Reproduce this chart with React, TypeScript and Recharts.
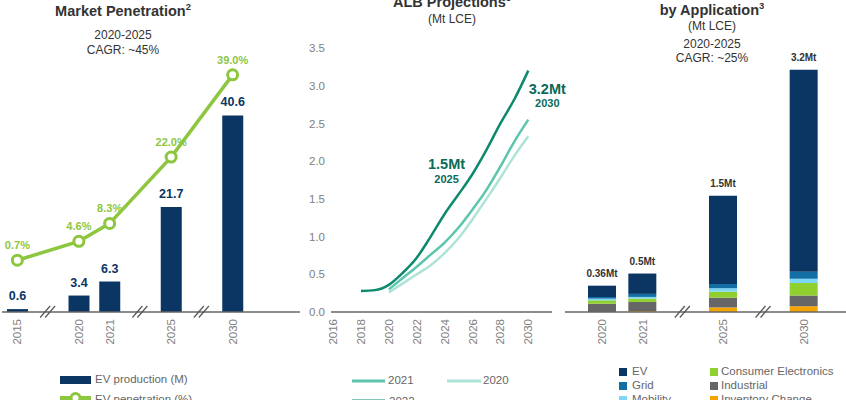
import React from 'react'
import {
    ComposedChart,
    BarChart,
    LineChart,
    Bar,
    Line,
    XAxis,
    YAxis,
    LabelList,
} from 'recharts'

const FONT = '"Liberation Sans", Arial, sans-serif'
const NAVY = '#0b3563'
const LIME = '#8dc63f'
const AXIS = '#666666'
const TICK = '#808080'
const TEAL_DARK = '#0c8a6e'
const TEAL_MID = '#5cc5ad'
const TEAL_LIGHT = '#aee3d8'
const TEAL_TEXT = '#0b6b58'

// market penetration
const evYears = ['2015', '2020', '2021', '2025', '2030']
const evProduction = [0.6, 3.4, 6.3, 21.7, 40.6]
const evPenetration = [0.7, 4.6, 8.3, 22.0, 39.0]
const evBreaksAfter = ['2015', '2021', '2025']

// ALB projections (Mt LCE)
const albYears = [2018, 2019, 2020, 2021, 2022, 2023, 2024, 2025, 2026, 2027, 2028, 2029, 2030]
const alb2022 = [0.28, 0.29, 0.36, 0.52, 0.72, 1.0, 1.3, 1.56, 1.83, 2.15, 2.5, 2.82, 3.2]
const alb2021 = [null, null, 0.3, 0.45, 0.6, 0.76, 0.92, 1.12, 1.36, 1.62, 1.93, 2.26, 2.55]
const alb2020 = [null, null, 0.26, 0.38, 0.5, 0.62, 0.78, 0.98, 1.23, 1.5, 1.78, 2.07, 2.33]
const albXTicks = [2016, 2018, 2020, 2022, 2024, 2026, 2028, 2030]
const albYTicks = [0, 0.5, 1, 1.5, 2, 2.5, 3, 3.5]
const albCallouts: Record<number, string> = { 2025: '1.5Mt', 2030: '3.2Mt' }

// demand by application (Mt LCE)
const appYears = ['2020', '2021', '2025', '2030']
const appBreaksAfter = ['2021', '2025']
const appInventory = [0, 0.013, 0.06, 0.075]
const appIndustrial = [0.11, 0.12, 0.13, 0.145]
const appConsumer = [0.045, 0.045, 0.08, 0.165]
const appMobility = [0.022, 0.022, 0.045, 0.057]
const appGrid = [0.022, 0.04, 0.057, 0.09]
const appEV = [0.15, 0.27, 1.17, 2.68]
const appTotals = ['0.36Mt', '0.5Mt', '1.5Mt', '3.2Mt']

const appSeries = [
    { key: 'inventory', name: 'Inventory Change', color: '#f5a300' },
    { key: 'industrial', name: 'Industrial', color: '#666666' },
    { key: 'consumer', name: 'Consumer Electronics', color: '#8fd02e' },
    { key: 'mobility', name: 'Mobility', color: '#7dd6f4' },
    { key: 'grid', name: 'Grid', color: '#136ea3' },
    { key: 'ev', name: 'EV', color: NAVY },
]

function withGaps(rows: any[], breaksAfter: string[]) {
    const out: any[] = []
    rows.forEach((r) => {
        out.push(r)
        if (breaksAfter.includes(r.name)) out.push({ name: 'gap' + out.length })
    })
    return out
}

function CategoryTick({ x, y, payload }: any) {
    const v = String(payload.value)
    if (v.startsWith('gap')) {
        return (
            <g stroke="#555" strokeWidth={1.2}>
                <line x1={x - 8} y1={y + 5.5} x2={x + 2} y2={y - 6} />
                <line x1={x - 3} y1={y + 5.5} x2={x + 7} y2={y - 6} />
            </g>
        )
    }
    return (
        <text
            x={x}
            y={y + 7}
            transform={`rotate(-90 ${x} ${y + 7})`}
            textAnchor="end"
            dy="0.35em"
            fill={TICK}
            fontSize={11.5}
        >
            {v}
        </text>
    )
}

function YearTick({ x, y, payload }: any) {
    return (
        <text
            x={x}
            y={y + 7}
            transform={`rotate(-90 ${x} ${y + 7})`}
            textAnchor="end"
            dy="0.35em"
            fill={TICK}
            fontSize={11.5}
        >
            {payload.value}
        </text>
    )
}

function BarValue({ x, y, width, value }: any) {
    if (value == null) return null
    return (
        <text x={x + width / 2} y={y - 9} textAnchor="middle" fill={NAVY} fontWeight="bold" fontSize={12.5}>
            {value}
        </text>
    )
}

function PctValue({ x, y, value }: any) {
    if (value == null) return null
    return (
        <text x={x} y={y - 11} textAnchor="middle" fill={LIME} fontWeight="bold" fontSize={11}>
            {value.toFixed(1)}%
        </text>
    )
}

function TotalValue({ x, y, width, value }: any) {
    if (value == null) return null
    return (
        <text x={x + width / 2} y={y - 8.5} textAnchor="middle" fill="#333" fontWeight="bold" fontSize={10}>
            {value}
        </text>
    )
}

function AlbCallout({ x, y, index }: any) {
    const year = albYears[index]
    const text = albCallouts[year]
    if (!text) return null
    const last = index === albYears.length - 1
    const cx = last ? x + 19 : x - 12
    const cy = last ? y + 18 : y - 30
    return (
        <g textAnchor="middle" fill={TEAL_TEXT} fontWeight="bold">
            <text x={cx} y={cy} dy="0.35em" fontSize={14.5}>{text}</text>
            <text x={cx} y={cy + 15} dy="0.35em" fontSize={11}>{year}</text>
        </g>
    )
}

function Txt({ x, y, children, style, left }: any) {
    return (
        <div
            style={{
                position: 'absolute',
                left: x,
                top: y,
                transform: left ? 'translate(0,-50%)' : 'translate(-50%,-50%)',
                whiteSpace: 'nowrap',
                lineHeight: 1.15,
                ...style,
            }}
        >
            {children}
        </div>
    )
}

const sup = { fontSize: '0.65em', verticalAlign: 'super' as const }
const title = { fontWeight: 'bold', fontSize: 14.5, color: '#333' }
const sub = { fontSize: 12, color: '#333' }
const leg = { fontSize: 11.5, color: '#666' }

export default function App() {
    const evRows = withGaps(
        evYears.map((name, i) => ({ name, production: evProduction[i], penetration: evPenetration[i] })),
        evBreaksAfter
    )
    const albRows = albYears.map((year, i) => ({ year, s2022: alb2022[i], s2021: alb2021[i], s2020: alb2020[i] }))
    const appRows = withGaps(
        appYears.map((name, i) => ({
            name,
            inventory: appInventory[i],
            industrial: appIndustrial[i],
            consumer: appConsumer[i],
            mobility: appMobility[i],
            grid: appGrid[i],
            ev: appEV[i],
            total: appTotals[i],
        })),
        appBreaksAfter
    )

    return (
        <div
            style={{
                position: 'fixed',
                left: 0,
                top: 0,
                width: 846,
                height: 400,
                background: '#fff',
                overflow: 'hidden',
                fontFamily: FONT,
            }}
        >
            {/* market penetration */}
            <div style={{ position: 'absolute', left: 0, top: 0 }}>
                <ComposedChart width={300} height={400} data={evRows} margin={{ top: 70, right: 0, bottom: 28, left: 2 }}>
                    <XAxis
                        dataKey="name"
                        height={60}
                        padding={{ left: 0, right: 52 }}
                        axisLine={{ stroke: AXIS, strokeWidth: 1.5 }}
                        tickLine={false}
                        tickSize={0}
                        tickMargin={0}
                        interval={0}
                        tick={<CategoryTick />}
                    />
                    <YAxis yAxisId="ev" hide domain={[0, 50]} />
                    <YAxis yAxisId="pct" hide domain={[-10, 40]} />
                    <Bar yAxisId="ev" dataKey="production" fill={NAVY} barSize={21} isAnimationActive={false}>
                        <LabelList dataKey="production" content={<BarValue />} />
                    </Bar>
                    <Line
                        yAxisId="pct"
                        dataKey="penetration"
                        stroke={LIME}
                        strokeWidth={3.5}
                        connectNulls
                        dot={{ r: 5, fill: '#fff', stroke: LIME, strokeWidth: 3 }}
                        isAnimationActive={false}
                    >
                        <LabelList dataKey="penetration" content={<PctValue />} />
                    </Line>
                </ComposedChart>
            </div>

            {/* ALB projections */}
            <div style={{ position: 'absolute', left: 290, top: 0 }}>
                <LineChart width={290} height={400} data={albRows} margin={{ top: 48, right: 28, bottom: 28, left: 0 }}>
                    <XAxis
                        dataKey="year"
                        type="number"
                        domain={[2015.85, 2031.7]}
                        ticks={albXTicks}
                        height={60}
                        axisLine={{ stroke: AXIS, strokeWidth: 1.5 }}
                        tickLine={false}
                        tickSize={0}
                        tickMargin={0}
                        interval={0}
                        tick={<YearTick />}
                    />
                    <YAxis
                        domain={[0, 3.5]}
                        ticks={albYTicks}
                        width={41}
                        axisLine={false}
                        tickLine={false}
                        tickSize={0}
                        tickMargin={6}
                        tickFormatter={(v: number) => v.toFixed(1)}
                        tick={{ fill: TICK, fontSize: 11.5 }}
                    />
                    <Line type="monotone" dataKey="s2020" stroke={TEAL_LIGHT} strokeWidth={2.5} dot={false} isAnimationActive={false} />
                    <Line type="monotone" dataKey="s2021" stroke={TEAL_MID} strokeWidth={2.5} dot={false} isAnimationActive={false} />
                    <Line type="monotone" dataKey="s2022" stroke={TEAL_DARK} strokeWidth={2.5} dot={false} isAnimationActive={false}>
                        <LabelList dataKey="s2022" content={<AlbCallout />} />
                    </Line>
                </LineChart>
            </div>

            {/* demand by application */}
            <div style={{ position: 'absolute', left: 560, top: 0 }}>
                <BarChart width={286} height={400} data={appRows} margin={{ top: 48, right: 0, bottom: 28, left: 5 }}>
                    <XAxis
                        dataKey="name"
                        height={60}
                        padding={{ left: 17, right: 22 }}
                        axisLine={{ stroke: AXIS, strokeWidth: 1.5 }}
                        tickLine={false}
                        tickSize={0}
                        tickMargin={0}
                        interval={0}
                        tick={<CategoryTick />}
                    />
                    <YAxis hide domain={[0, 3.5]} />
                    {appSeries.map((s) => (
                        <Bar key={s.key} dataKey={s.key} stackId="a" fill={s.color} barSize={28} isAnimationActive={false}>
                            {s.key === 'ev' && <LabelList dataKey="total" content={<TotalValue />} />}
                        </Bar>
                    ))}
                </BarChart>
            </div>

            {/* titles */}
            <Txt x={123} y={11} style={title}>
                Market Penetration<span style={sup}>2</span>
            </Txt>
            <Txt x={123} y={36} style={sub}>2020-2025</Txt>
            <Txt x={123} y={51} style={sub}>CAGR: ~45%</Txt>

            <Txt x={452} y={2} style={title}>
                ALB Projections<span style={sup}>3</span>
            </Txt>
            <Txt x={452} y={20} style={sub}>(Mt LCE)</Txt>

            <Txt x={712} y={10} style={title}>
                by Application<span style={sup}>3</span>
            </Txt>
            <Txt x={712} y={27} style={sub}>(Mt LCE)</Txt>
            <Txt x={712} y={45} style={sub}>2020-2025</Txt>
            <Txt x={712} y={59} style={sub}>CAGR: ~25%</Txt>

            {/* legends */}
            <svg width={846} height={400} style={{ position: 'absolute', left: 0, top: 0, pointerEvents: 'none' }}>
                <rect x={60} y={376} width={31} height={8} fill={NAVY} />
                <line x1={60} y1={398} x2={91} y2={398} stroke={LIME} strokeWidth={4} />
                <circle cx={75.5} cy={398} r={4.5} fill="#fff" stroke={LIME} strokeWidth={3} />

                <line x1={352} y1={381} x2={385} y2={381} stroke={TEAL_MID} strokeWidth={3} />
                <line x1={447} y1={381} x2={481} y2={381} stroke={TEAL_LIGHT} strokeWidth={3} />
                <line x1={352} y1={401} x2={385} y2={401} stroke={TEAL_DARK} strokeWidth={3} />

                {appSeries.slice().reverse().map((s, i) => (
                    <rect
                        key={s.key}
                        x={i < 3 ? 619 : 710}
                        y={368 + (i % 3) * 14}
                        width={8}
                        height={8}
                        fill={s.color}
                    />
                ))}
            </svg>
            <Txt left x={95} y={380} style={leg}>EV production (M)</Txt>
            <Txt left x={95} y={400} style={leg}>EV penetration (%)</Txt>
            <Txt left x={388} y={381} style={leg}>2021</Txt>
            <Txt left x={483} y={381} style={leg}>2020</Txt>
            <Txt left x={389} y={402} style={leg}>2022</Txt>
            {appSeries.slice().reverse().map((s, i) => (
                <Txt key={s.key} left x={i < 3 ? 632 : 721} y={372 + (i % 3) * 14} style={leg}>
                    {s.name}
                </Txt>
            ))}
        </div>
    )
}
